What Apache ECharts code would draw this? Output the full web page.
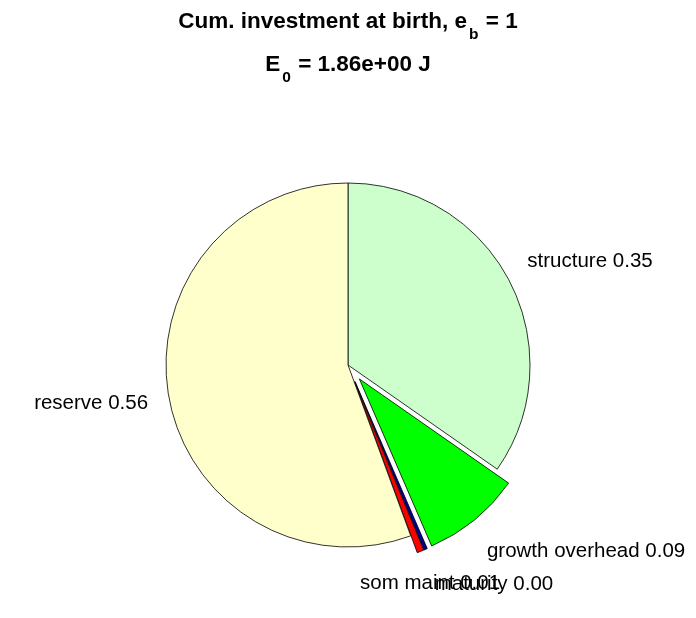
<!DOCTYPE html>
<html>
<head>
<meta charset="utf-8">
<script src="https://cdn.jsdelivr.net/npm/echarts@6/dist/echarts.min.js"></script>
<style>
html,body{margin:0;padding:0;background:#fff;}
#chart{width:696px;height:618px;}
</style>
</head>
<body>
<div id="chart"></div>
<script>
// ---- data ----
const categories = ['structure', 'growth overhead', 'maturity', 'som maint', 'reserve'];
const fractions = [0.347, 0.088, 0.003, 0.006, 0.556];
const exploded = [false, true, true, true, false];
const titleLine1 = ['Cum. investment at birth, e', 'b', ' = 1'];
const titleLine2 = ['E', '0', ' = 1.86e+00 J'];

// ---- styles ----
const sliceColors = ['#ccffcc', '#00ff00', '#000099', '#ff0000', '#ffffcc'];
// label nudges (dx, dy) in px relative to ECharts' outside placement
const labelNudge = [[2, -11], [1, 18], [2, 18], [-67, 15], [-3, 3]];
const FONT = "'Liberation Sans', Arial, Helvetica, sans-serif";
const R = 182;

const chart = echarts.init(document.getElementById('chart'), null, {renderer: 'canvas'});

const data = categories.map((name, i) => ({
  name: name,
  value: fractions[i],
  selected: exploded[i],
  itemStyle: {color: sliceColors[i]}
}));

const option = {
  animation: false,
  backgroundColor: '#ffffff',
  title: {
    left: 'center',
    top: 0,
    padding: 0,
    text: '{t|' + titleLine1[0] + '}{s|' + titleLine1[1] + '}{t|' + titleLine1[2] + '}\n' +
          '{t|' + titleLine2[0] + '}{s|' + titleLine2[1] + '}{t|' + titleLine2[2] + '}',
    textStyle: {
      rich: {
        t: {fontFamily: FONT, fontSize: 22.5, fontWeight: 'bold', color: '#000', lineHeight: 38},
        s: {fontFamily: FONT, fontSize: 15.5, fontWeight: 'bold', color: '#000', padding: [27, 1, 0, 2]}
      }
    }
  },
  series: [{
    type: 'pie',
    center: [348, 365],
    radius: [0, R],
    startAngle: 90,
    clockwise: true,
    selectedMode: 'multiple',
    selectedOffset: 18,
    avoidLabelOverlap: false,
    emphasis: {disabled: true},
    itemStyle: {borderColor: '#000', borderWidth: 0.8},
    select: {itemStyle: {borderColor: '#000', borderWidth: 0.8}},
    label: {
      show: true,
      position: 'outside',
      fontFamily: FONT,
      fontSize: 20.5,
      color: '#000',
      distanceToLabelLine: 0,
      formatter: p => p.name + ' ' + p.value.toFixed(2)
    },
    labelLine: {show: false, length: 18, length2: 0},
    labelLayout: p => ({
      hideOverlap: false,
      moveOverlap: null,
      dx: labelNudge[p.dataIndex][0],
      dy: labelNudge[p.dataIndex][1]
    }),
    data: data
  }]
};
chart.setOption(option);
</script>
</body>
</html>
